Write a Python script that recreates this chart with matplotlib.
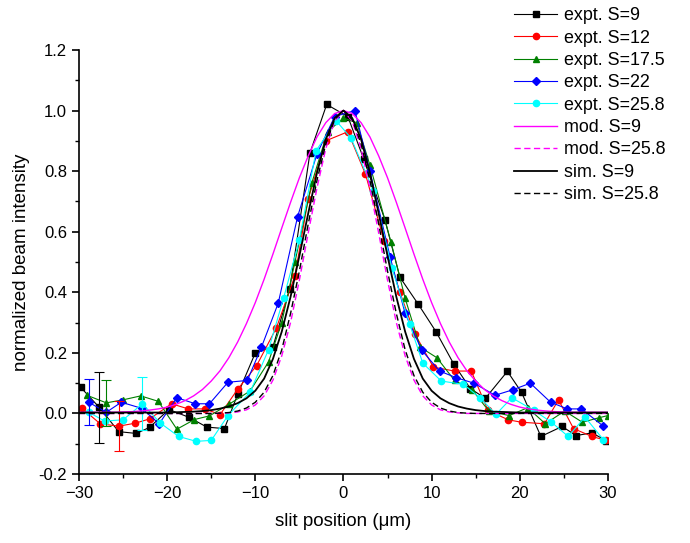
import matplotlib
matplotlib.use("Agg")
import matplotlib.pyplot as plt
from matplotlib.ticker import MultipleLocator, FormatStrFormatter
import numpy as np

plt.rcParams['font.family'] = ['Liberation Sans', 'DejaVu Sans']

# experimental scans (slit position in um, normalized intensity)
x_s9 = [-29.8, -27.7, -25.5, -23.5, -22.0, -19.8, -17.5, -15.5, -13.5, -12.0, -10.0, -8.0, -6.1, -3.8, -1.9,
        0.5, 2.3, 4.7, 6.4, 8.5, 10.5, 12.5, 14.4, 16.1, 18.6, 20.2, 22.4, 24.8, 26.4, 28.2, 29.8]
y_s9 = [0.086, 0.02, -0.06, -0.066, -0.046, 0.013, -0.013, -0.045, -0.05, 0.063, 0.20, 0.22, 0.41, 0.86, 1.02,
        0.98, 0.84, 0.64, 0.45, 0.36, 0.27, 0.164, 0.082, 0.05, 0.139, 0.07, -0.076, -0.043, -0.073, -0.064, -0.09]

x_s12 = [-29.7, -27.6, -25.5, -23.6, -22.0, -19.5, -17.6, -15.7, -14.0, -12.0, -9.85, -7.6, -5.5, -4.0, -2.0,
         0.5, 2.5, 4.6, 6.4, 8.1, 10.2, 12.6, 14.5, 16.4, 18.7, 20.2, 22.8, 24.4, 26.1, 28.2, 29.8]
y_s12 = [0.018, -0.034, -0.042, -0.032, -0.018, 0.032, 0.015, 0.015, -0.004, 0.08, 0.158, 0.283, 0.455, 0.708, 0.90,
         0.93, 0.79, 0.57, 0.40, 0.263, 0.153, 0.14, 0.14, 0.01, -0.021, -0.029, -0.034, 0.045, -0.05, -0.076, -0.089]

x_s175 = [-29.1, -26.9, -25.0, -23.0, -21.0, -18.9, -16.9, -15.2, -13.0, -10.6, -8.5, -7.0, -5.5, -3.6, -1.8,
          0.0, 1.5, 3.0, 5.4, 7.0, 8.7, 10.6, 12.6, 14.6, 16.5, 18.8, 20.9, 22.9, 25.1, 27.1, 29.0, 30.0]
y_s175 = [0.06, 0.035, 0.045, 0.058, 0.04, -0.052, -0.02, -0.008, 0.03, 0.074, 0.17, 0.30, 0.50, 0.76, 0.93,
          0.975, 0.96, 0.82, 0.565, 0.38, 0.219, 0.184, 0.109, 0.078, 0.008, -0.007, 0.019, -0.034, 0.008, -0.029, -0.014, -0.007]

x_s22 = [-28.9, -26.9, -25.2, -22.9, -20.9, -18.9, -16.8, -15.2, -13.1, -10.9, -9.3, -7.4, -5.2, -3.0, -1.0,
         1.3, 3.0, 5.3, 7.0, 8.9, 10.9, 12.8, 14.8, 17.2, 19.2, 21.2, 23.5, 25.4, 27.0, 29.4]
y_s22 = [0.037, 0.004, 0.037, 0.017, -0.034, 0.052, 0.032, 0.032, 0.103, 0.109, 0.219, 0.364, 0.65, 0.857, 0.98,
         1.0, 0.80, 0.516, 0.33, 0.208, 0.14, 0.118, 0.10, 0.06, 0.078, 0.10, 0.037, 0.015, 0.015, -0.04]

x_s258 = [-28.9, -27.1, -25.0, -22.8, -20.8, -18.7, -16.7, -15.0, -13.1, -10.6, -8.5, -6.8, -5.0, -3.1, -0.8,
          0.84, 3.4, 5.5, 7.5, 9.0, 11.1, 13.6, 15.5, 17.3, 19.1, 21.6, 23.6, 25.5, 27.4, 29.5]
y_s258 = [0.004, -0.025, -0.021, 0.032, -0.031, -0.076, -0.092, -0.089, -0.007, 0.07, 0.21, 0.38, 0.573, 0.868, 0.965,
          0.91, 0.736, 0.48, 0.296, 0.166, 0.107, 0.096, 0.052, -0.003, 0.052, 0.01, -0.029, -0.076, -0.012, -0.087]

# error bars shown on one point of each scan
err_x = [-28.9, -27.7, -26.9, -25.5, -22.8]
err_y = [0.037, 0.02, 0.034, -0.042, 0.032]
err_size = [0.076, 0.117, 0.076, 0.082, 0.088]
err_color = ['blue', 'black', 'green', 'red', 'cyan']

# model / simulation profiles sampled every 1 um from -30 to 30
x_model = list(range(-30, 31))
mod_s9 = [0.004, 0.004, 0.004, 0.004, 0.004, 0.005, 0.006, 0.008, 0.011, 0.015, 0.021,
          0.03, 0.042, 0.058, 0.079, 0.107, 0.141, 0.184, 0.236, 0.297, 0.366,
          0.443, 0.526, 0.612, 0.697, 0.778, 0.85, 0.913, 0.96, 0.99, 1.0,
          0.99, 0.96, 0.913, 0.85, 0.778, 0.697, 0.612, 0.526, 0.443, 0.366,
          0.297, 0.236, 0.184, 0.141, 0.107, 0.079, 0.058, 0.042, 0.03, 0.021,
          0.015, 0.011, 0.008, 0.006, 0.005, 0.004, 0.004, 0.004, 0.004, 0.004]
mod_s258 = [0.0, 0.0, 0.0, 0.0, 0.0, 0.0, 0.0, 0.0, 0.0, 0.0, 0.0,
            0.0, 0.0, 0.0, 0.0, 0.0, 0.0, 0.002, 0.005, 0.012, 0.028,
            0.058, 0.11, 0.19, 0.30, 0.44, 0.595, 0.745, 0.875, 0.965, 1.0,
            0.965, 0.875, 0.745, 0.595, 0.44, 0.30, 0.19, 0.11, 0.058, 0.028,
            0.012, 0.005, 0.002, 0.0, 0.0, 0.0, 0.0, 0.0, 0.0, 0.0,
            0.0, 0.0, 0.0, 0.0, 0.0, 0.0, 0.0, 0.0, 0.0, 0.0]
sim_s9 = [0.003, 0.003, 0.003, 0.003, 0.003, 0.003, 0.003, 0.003, 0.003, 0.003, 0.003,
          0.004, 0.005, 0.006, 0.008, 0.011, 0.016, 0.023, 0.034, 0.05, 0.075,
          0.115, 0.18, 0.27, 0.385, 0.52, 0.66, 0.795, 0.905, 0.975, 1.0,
          0.975, 0.905, 0.795, 0.66, 0.52, 0.385, 0.27, 0.18, 0.115, 0.075,
          0.05, 0.034, 0.023, 0.016, 0.011, 0.008, 0.006, 0.005, 0.004, 0.003,
          0.003, 0.003, 0.003, 0.003, 0.003, 0.003, 0.003, 0.003, 0.003, 0.003]
sim_s258 = [0.0, 0.0, 0.0, 0.0, 0.0, 0.0, 0.0, 0.0, 0.0, 0.0, 0.0,
            0.0, 0.0, 0.0, 0.0, 0.0, 0.001, 0.003, 0.008, 0.018, 0.037,
            0.07, 0.125, 0.21, 0.33, 0.47, 0.625, 0.77, 0.89, 0.97, 1.0,
            0.97, 0.89, 0.77, 0.625, 0.47, 0.33, 0.21, 0.125, 0.07, 0.037,
            0.018, 0.008, 0.003, 0.001, 0.0, 0.0, 0.0, 0.0, 0.0, 0.0,
            0.0, 0.0, 0.0, 0.0, 0.0, 0.0, 0.0, 0.0, 0.0, 0.0]

fig = plt.figure(figsize=(6.9, 5.43), dpi=100)
ax = fig.add_axes([0.1145, 0.127, 0.7665, 0.781])

lw = 0.8
ax.plot(x_s9, y_s9, color='black', marker='s', ms=4, lw=lw, label='expt. S=9')
ax.plot(x_s12, y_s12, color='red', marker='o', ms=4.5, lw=lw, label='expt. S=12')
ax.plot(x_s175, y_s175, color='green', marker='^', ms=4.5, lw=lw, label='expt. S=17.5')
ax.plot(x_s22, y_s22, color='blue', marker='D', ms=4, lw=lw, label='expt. S=22')
ax.plot(x_s258, y_s258, color='cyan', marker='o', ms=4.5, lw=lw, label='expt. S=25.8')

for ex, ey, es, ec in zip(err_x, err_y, err_size, err_color):
    ax.errorbar(ex, ey, yerr=es, fmt='none', ecolor=ec, elinewidth=0.8, capsize=3.5, capthick=0.8)

ax.plot(x_model, mod_s9, color='magenta', lw=1.0, label='mod. S=9')
ax.plot(x_model, mod_s258, color='magenta', lw=1.0, dashes=(4.5, 2.5), label='mod. S=25.8')
ax.plot(x_model, sim_s9, color='black', lw=1.3, label='sim. S=9')
ax.plot(x_model, sim_s258, color='black', lw=1.0, dashes=(4.5, 2.5), label='sim. S=25.8')

ax.set_xlim(-30, 30)
ax.set_ylim(-0.2, 1.2)
ax.xaxis.set_major_locator(MultipleLocator(10))
ax.xaxis.set_minor_locator(MultipleLocator(5))
ax.yaxis.set_major_locator(MultipleLocator(0.2))
ax.yaxis.set_minor_locator(MultipleLocator(0.1))
ax.yaxis.set_major_formatter(FormatStrFormatter('%.1f'))
ax.spines['top'].set_visible(False)
ax.spines['right'].set_visible(False)
for s in ['left', 'bottom']:
    ax.spines[s].set_linewidth(1.2)
ax.tick_params(which='major', direction='out', length=5, width=1.2, labelsize=12)
ax.tick_params(which='minor', direction='out', length=3, width=1.0)

ax.set_xlabel('slit position (\u03bcm)', fontsize=13.5, labelpad=9)
ax.set_ylabel('normalized beam intensity', fontsize=13.5, labelpad=6)

fig.legend(loc='upper left', bbox_to_anchor=(0.735, 1.0), frameon=False, fontsize=12.9,
           handlelength=2.4, handletextpad=0.4, labelspacing=0.3, borderaxespad=0.0)

fig.savefig('out.png', dpi=100)
